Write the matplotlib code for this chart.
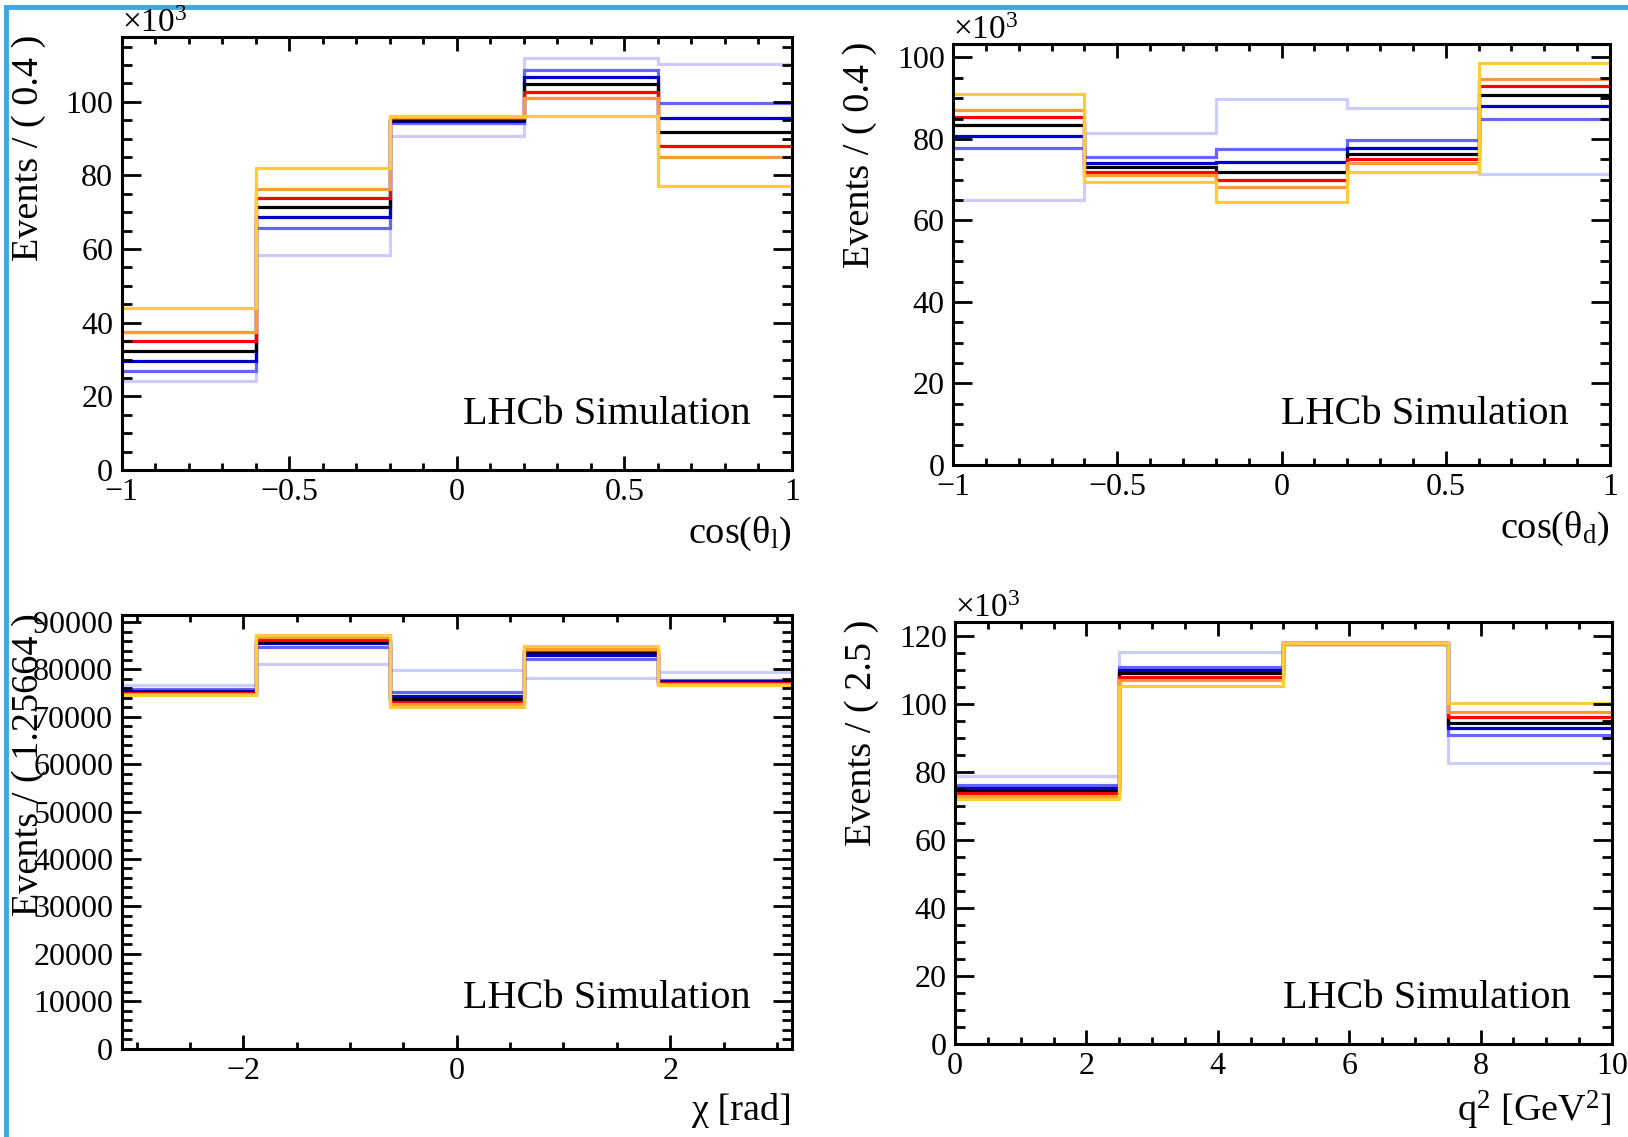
import numpy as np
import matplotlib
matplotlib.use("Agg")
import matplotlib.pyplot as plt
from matplotlib.ticker import MultipleLocator, FuncFormatter
from matplotlib.lines import Line2D

plt.rcParams['font.family'] = ['Liberation Serif', 'DejaVu Serif']
plt.rcParams['mathtext.fontset'] = 'custom'
plt.rcParams['mathtext.rm'] = 'Liberation Serif'
plt.rcParams['mathtext.it'] = 'Liberation Serif:italic'

# ---------------- data ----------------
series_names = ["light", "mid", "blue", "nominal", "red", "orange", "yellow"]
series_colors = ["#ccccff", "#6666ff", "#0000cc", "#000000", "#ff0000", "#ff9933", "#ffcc33"]

# cos(theta_l), x10^3 events, 5 bins
ctl_light = [24.1, 58.3, 90.6, 112.0, 110.4]
ctl_mid = [27.0, 65.7, 94.2, 108.7, 99.6]
ctl_blue = [29.5, 68.6, 94.8, 106.8, 95.5]
ctl_nominal = [32.2, 71.4, 95.1, 104.7, 91.7]
ctl_red = [34.9, 73.9, 95.5, 102.7, 88.1]
ctl_orange = [37.4, 76.4, 95.9, 100.9, 84.9]
ctl_yellow = [44.1, 82.0, 96.1, 96.1, 77.2]

# cos(theta_d), x10^3 events, 5 bins
ctd_light = [65.0, 81.4, 89.9, 87.7, 71.4]
ctd_mid = [77.8, 75.6, 77.5, 79.7, 84.9]
ctd_blue = [80.8, 74.1, 74.4, 77.8, 88.2]
ctd_nominal = [83.4, 73.0, 71.9, 76.3, 90.9]
ctd_red = [85.5, 72.0, 69.9, 75.0, 93.0]
ctd_orange = [87.2, 71.2, 68.2, 74.0, 94.8]
ctd_yellow = [91.0, 69.5, 64.6, 71.8, 98.6]

# chi [rad], events, 5 bins
chi_light = [76800, 81100, 79900, 78200, 79400]
chi_mid = [75800, 84800, 75300, 82300, 77700]
chi_blue = [75500, 85500, 74400, 83000, 77500]
chi_nominal = [75300, 85900, 73700, 83600, 77400]
chi_red = [75100, 86300, 73100, 84100, 77200]
chi_orange = [74900, 86800, 72700, 84400, 77000]
chi_yellow = [74600, 87200, 72100, 84900, 76700]

# q2 [GeV^2], x10^3 events, 4 bins
q2_light = [78.8, 115.4, 118.2, 82.7]
q2_mid = [76.2, 111.0, 118.0, 90.8]
q2_blue = [75.4, 110.0, 117.9, 92.9]
q2_nominal = [74.6, 109.1, 117.8, 94.6]
q2_red = [73.8, 108.1, 117.6, 96.2]
q2_orange = [73.1, 107.0, 117.7, 97.6]
q2_yellow = [72.1, 105.3, 117.9, 100.5]

ctl_edges = np.linspace(-1, 1, 6)
ctd_edges = np.linspace(-1, 1, 6)
chi_edges = np.linspace(-np.pi, np.pi, 6)
q2_edges = np.linspace(0, 10, 5)

panels = [
    dict(vals=[ctl_light, ctl_mid, ctl_blue, ctl_nominal, ctl_red, ctl_orange, ctl_yellow],
         edges=ctl_edges, ylim=117.6, xlim=(-1, 1), xmaj=0.5, xmin=0.1, ymaj=20, ymin=5,
         ylabel="Events / ( 0.4 )", xlabel=r"cos(θ$_{\mathrm{l}}$)", exp=True,
         box=(121.5, 792, 37, 470), lhcb_y=414),
    dict(vals=[ctd_light, ctd_mid, ctd_blue, ctd_nominal, ctd_red, ctd_orange, ctd_yellow],
         edges=ctd_edges, ylim=103.3, xlim=(-1, 1), xmaj=0.5, xmin=0.1, ymaj=20, ymin=5,
         ylabel="Events / ( 0.4 )", xlabel=r"cos(θ$_{\mathrm{d}}$)", exp=True,
         box=(953, 1610, 44, 465), lhcb_y=414),
    dict(vals=[chi_light, chi_mid, chi_blue, chi_nominal, chi_red, chi_orange, chi_yellow],
         edges=chi_edges, ylim=91500, xlim=(-np.pi, np.pi), xmaj=2, xmin=0.5, ymaj=10000, ymin=2000,
         ylabel="Events / ( 1.25664 )", xlabel="χ [rad]", exp=False,
         box=(121.5, 792, 615, 1048.5), lhcb_y=998),
    dict(vals=[q2_light, q2_mid, q2_blue, q2_nominal, q2_red, q2_orange, q2_yellow],
         edges=q2_edges, ylim=124.2, xlim=(0, 10), xmaj=2, xmin=0.5, ymaj=20, ymin=5,
         ylabel="Events / ( 2.5 )", xlabel=r"q$^{2}$ [GeV$^{2}$]", exp=True,
         box=(955, 1612, 622, 1044), lhcb_y=998),
]

W, H = 1628, 1137
fig = plt.figure(figsize=(W / 100, H / 100), dpi=100)
fig.patch.set_facecolor("white")


def fmt(v, pos):
    s = "%g" % v
    return s.replace("-", "\u2212")


for p in panels:
    l, r, t, b = p["box"]
    ax = fig.add_axes([l / W, 1 - b / H, (r - l) / W, (b - t) / H])
    for vals, col in zip(p["vals"], series_colors):
        ax.stairs(vals, p["edges"], baseline=None, color=col, lw=2.3)
    ax.set_xlim(*p["xlim"])
    ax.set_ylim(0, p["ylim"])
    ax.xaxis.set_major_locator(MultipleLocator(p["xmaj"]))
    ax.xaxis.set_minor_locator(MultipleLocator(p["xmin"]))
    ax.yaxis.set_major_locator(MultipleLocator(p["ymaj"]))
    ax.yaxis.set_minor_locator(MultipleLocator(p["ymin"]))
    ax.xaxis.set_major_formatter(FuncFormatter(fmt))
    ax.yaxis.set_major_formatter(FuncFormatter(fmt))
    for s in ax.spines.values():
        s.set_linewidth(2.2)
    ax.tick_params(axis='both', which='both', direction='in', top=True, right=True,
                   width=2.0, labelsize=23, pad=6)
    ax.tick_params(axis='x', which='major', length=10)
    ax.tick_params(axis='x', which='minor', length=5)
    ax.tick_params(axis='y', which='major', length=14)
    ax.tick_params(axis='y', which='minor', length=7)
    # titles
    fig.text((l - 93) / W, 1 - (t - 2) / H, p["ylabel"], rotation=90, ha='center', va='top',
             fontsize=27.5)
    fig.text(r / W, 1 - (b + 45) / H, p["xlabel"], ha='right', va='top', fontsize=27.5)
    fig.text((r - 41) / W, 1 - p["lhcb_y"] / H, "LHCb Simulation", ha='right', va='center',
             fontsize=29)
    if p["exp"]:
        fig.text(l / W, 1 - (t - 5) / H, r"×10$^{3}$", ha='left', va='baseline', fontsize=24)

# blue frame
fig.add_artist(Line2D([6 / W, 6 / W], [0, 1 - 7 / H], transform=fig.transFigure,
                      color="#3ea8dc", lw=3.5))
fig.add_artist(Line2D([6 / W, 1], [1 - 7 / H, 1 - 7 / H], transform=fig.transFigure,
                      color="#3ea8dc", lw=3.5))

fig.savefig("out.png", dpi=100)
